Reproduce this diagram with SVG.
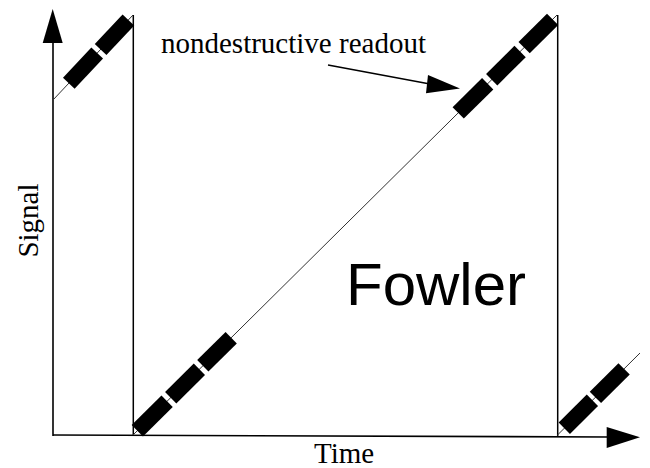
<svg xmlns="http://www.w3.org/2000/svg" width="650" height="468" viewBox="0 0 650 468">
  <style>
    .axis { stroke: #000; stroke-width: 1.6; fill: none; }
    .wall { stroke: #000; stroke-width: 1.5; fill: none; }
    .ramp { stroke: #333; stroke-width: 1; fill: none; }
    .read { stroke: #000; stroke-width: 16; stroke-linecap: butt; fill: none; }
    .serif { font-family: "Liberation Serif", "Times New Roman", serif; font-size: 29px; fill: #000; }
    .sans { font-family: "Liberation Sans", Arial, sans-serif; font-size: 60px; fill: #000; }
  </style>
  <rect width="650" height="468" fill="#fff"/>

  <g id="axes">
    <line class="axis" x1="53" y1="436" x2="53" y2="40"/>
    <polygon points="52.7,9 42.7,43 62.7,43" fill="#000"/>
    <line class="axis" x1="53" y1="435" x2="610" y2="437"/>
    <polygon points="640,437.3 606.7,427 606.7,448" fill="#000"/>
  </g>

  <g id="resets">
    <line class="wall" x1="133.3" y1="15" x2="133.3" y2="435"/>
    <line class="wall" x1="557.7" y1="15" x2="557.7" y2="436"/>
  </g>

  <g id="ramp1">
    <line class="ramp" x1="53" y1="100" x2="133" y2="15"/>
    <line class="read" x1="68.8" y1="83.2" x2="97.2" y2="53.0"/>
    <line class="read" x1="100.6" y1="49.4" x2="128.4" y2="19.9"/>
  </g>

  <g id="ramp2">
    <line class="ramp" x1="133" y1="435" x2="557" y2="15"/>
    <line class="read" x1="137.3" y1="430.8" x2="167.1" y2="401.2"/>
    <line class="read" x1="170.7" y1="397.7" x2="199.4" y2="369.3"/>
    <line class="read" x1="202.8" y1="365.8" x2="231.2" y2="337.7"/>
    <line class="read" x1="458.2" y1="112.9" x2="487.7" y2="83.7"/>
    <line class="read" x1="491.7" y1="79.7" x2="520.1" y2="51.5"/>
    <line class="read" x1="524.1" y1="47.6" x2="552.6" y2="19.4"/>
  </g>

  <g id="ramp3">
    <line class="ramp" x1="557" y1="435.5" x2="640" y2="353"/>
    <line class="read" x1="564.3" y1="428.2" x2="592.4" y2="400.3"/>
    <line class="read" x1="595.4" y1="397.4" x2="624.1" y2="368.8"/>
  </g>

  <g id="annotation">
    <line x1="328" y1="65" x2="430" y2="84" stroke="#000" stroke-width="1.5"/>
    <polygon points="460,88.5 428,75 426,93.3" fill="#000"/>
    <text class="serif" x="161" y="53">nondestructive readout</text>
  </g>

  <g id="labels">
    <text class="serif" transform="translate(38,220.5) rotate(-90)" text-anchor="middle">Signal</text>
    <text class="serif" x="314" y="463">Time</text>
    <text class="sans" x="346" y="305">Fowler</text>
  </g>
</svg>
